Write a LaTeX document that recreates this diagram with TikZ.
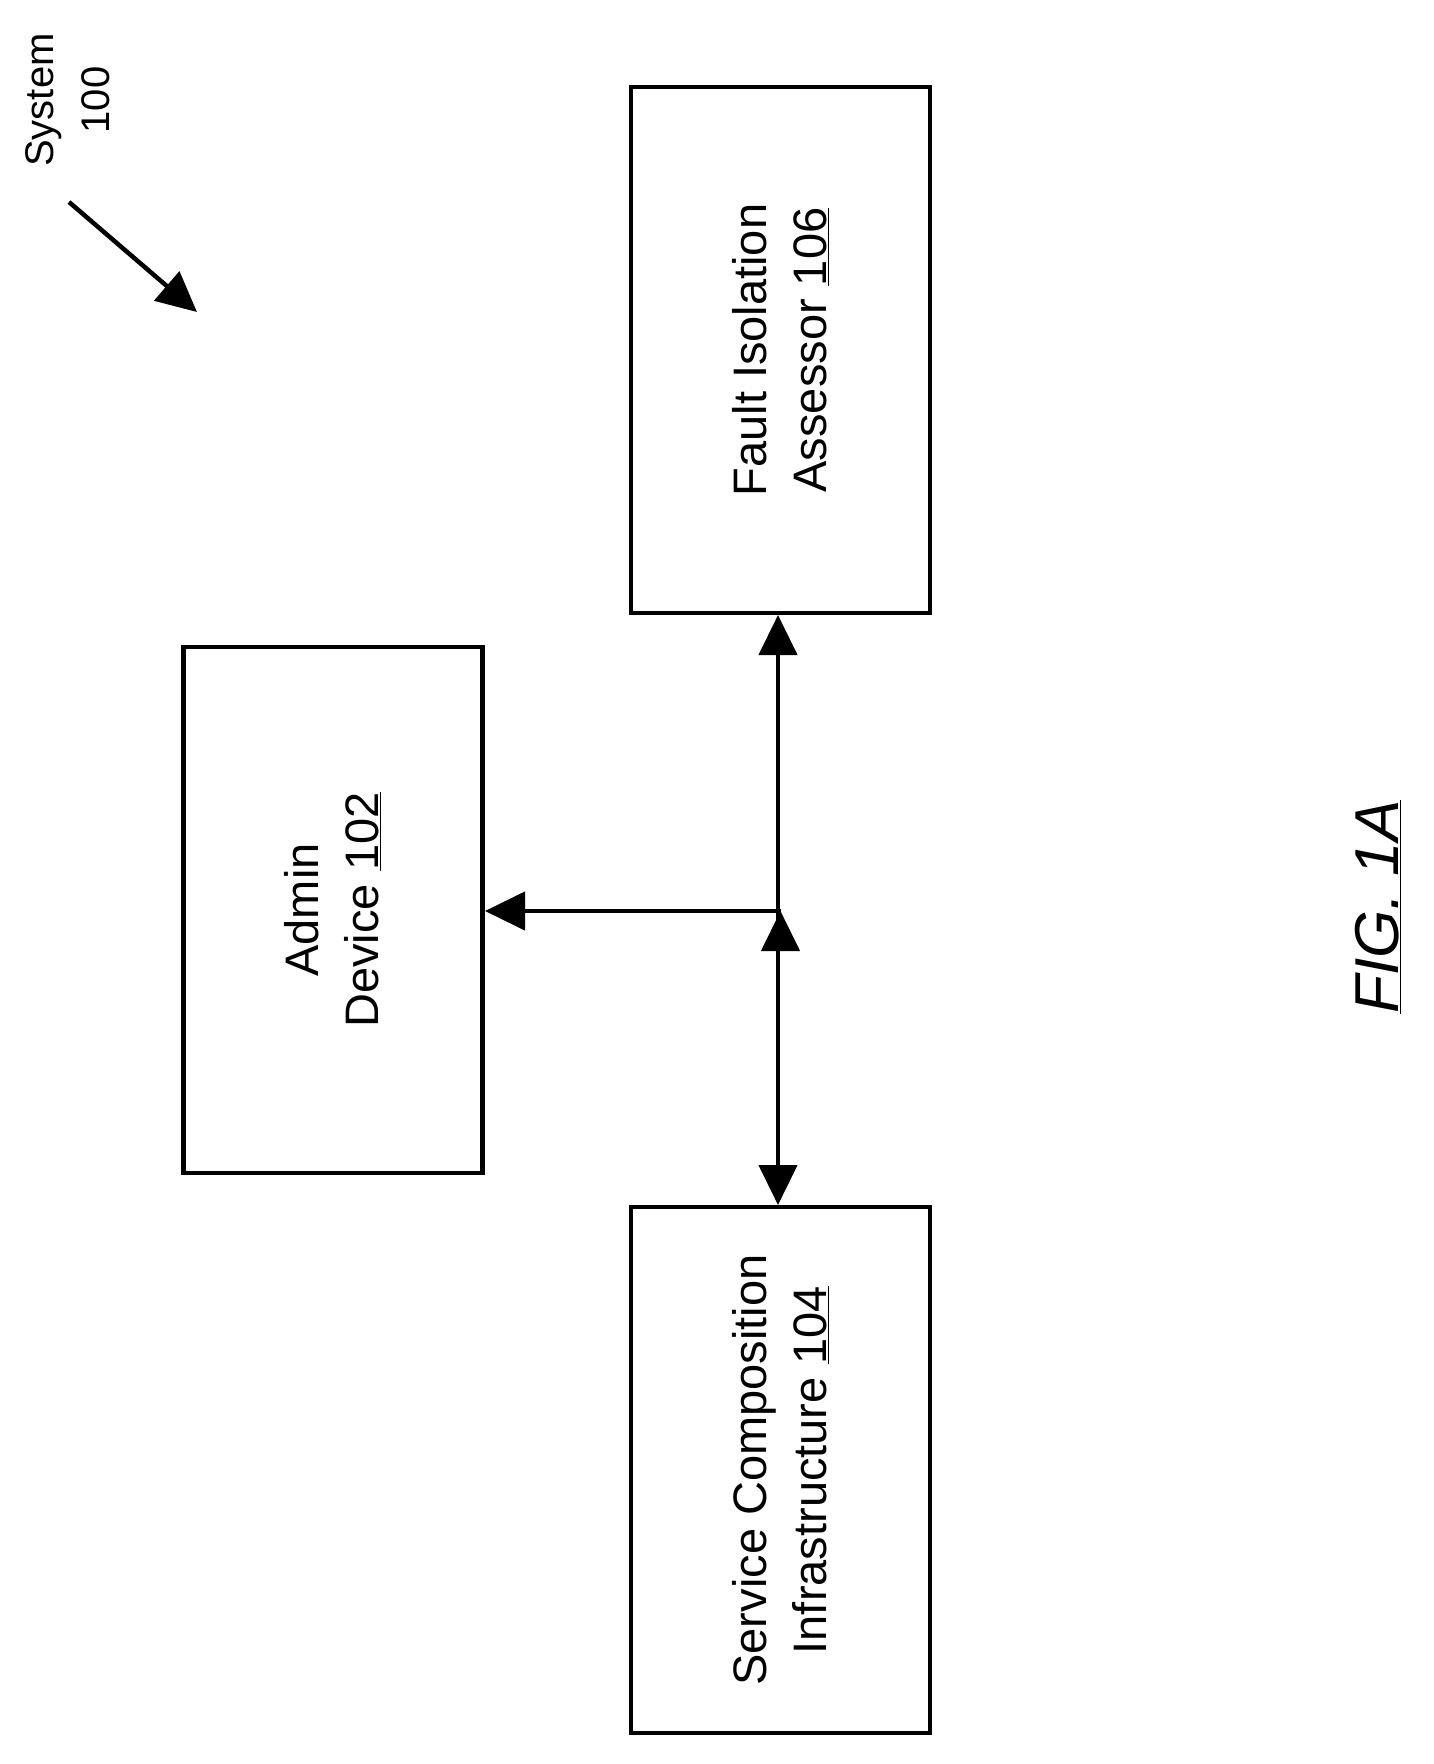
\documentclass[tikz,border=0pt]{standalone}
\usepackage{fontspec}
\setmainfont{Liberation Sans}
\usetikzlibrary{arrows.meta}
\begin{document}
\begin{tikzpicture}[x=1pt,y=-1pt,
  box/.style={draw,line width=4.5pt,minimum width=526pt,minimum height=299pt,rotate=90,align=center,font=\fontsize{47}{60}\selectfont},
  arr/.style={line width=4.5pt,-{Triangle[length=40pt,width=38pt]}}]
\useasboundingbox (0,0) rectangle (1434,1764);
\node[box] (fault) at (780.5,350) {Fault Isolation\\Assessor \underline{106}};
\node[box] (admin) at (333,910) {Admin\\Device \underline{102}};
\node[box] (serv) at (780.5,1470) {Service Composition\\Infrastructure \underline{104}};
\coordinate (j) at (778,911);
\draw[arr] (j) -- (fault.west |- j) ++(0,0);
\draw[arr] (j) -- (778,615);
\draw[arr] (j) -- (778,1205);
\draw[arr] (j) -- (485,911);
\node[rotate=90,align=center,font=\fontsize{40}{56}\selectfont] (sys) at (68,100) {System\\100};
\coordinate (se) at (197,312);
\draw[arr] (69,202) -- (se);
\node[rotate=90,font=\fontsize{62}{70}\selectfont\itshape] (fig) at (1378,907) {\underline{FIG. 1A}};
\end{tikzpicture}
\end{document}
